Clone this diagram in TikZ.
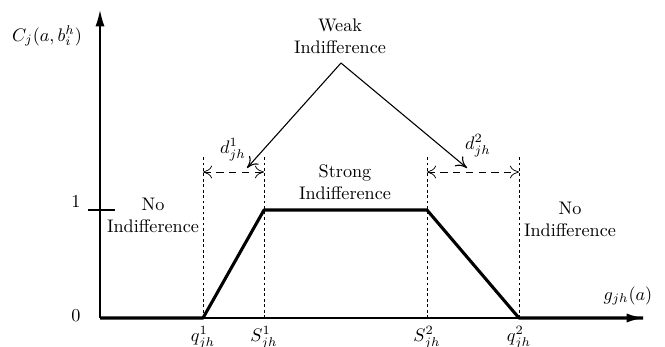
\documentclass[tikz,border=0pt]{standalone}
\usepackage{amsmath}
\usepackage{tikz}
\usetikzlibrary{arrows.meta}
\tikzset{
	axis/.style={thick, -{Latex[length=9pt, width=5pt]}}, % axes with filled heads
	curve/.style={line width=1.7pt, line join=round}, % the function itself
	guide/.style={thin, dash pattern=on 1.5pt off 1.5pt}, % vertical helper lines
	gap/.style={thin, dash pattern=on 4pt off 3pt, {To[length=5pt, width=7pt]}-{To[length=5pt, width=7pt]}}, % width of a zone
	pointer/.style={semithick, -{To[length=6pt, width=7pt]}}, % from the Weak label
	zone/.style={align=center, inner sep=1pt}, % zone labels
}
\begin{document}
\begin{tikzpicture}[x=0.55pt, y=-0.55pt]
	\useasboundingbox (0,0) rectangle (665,347);
	% axes
	\coordinate (o) at (100,318);
	\coordinate (ytop) at (100,10);
	\coordinate (xend) at (643,318);
	\draw[axis] (o) -- (ytop);
	\draw[axis] (o) -- (xend);
	\node (ylab) at (47,36) {$C_j(a,b_i^h)$};
	\node (xlab) at (628,296) {$g_{jh}(a)$};
	% levels
	\coordinate (t1) at (88,210);
	\coordinate (t2) at (115,210);
	\draw[thick] (t1) -- (t2);
	\node (one) at (76,202) {$1$};
	\node (zero) at (76,316) {$0$};
	% break points
	\coordinate (q1) at (203,318);
	\coordinate (s1) at (264,210);
	\coordinate (s2) at (427,210);
	\coordinate (q2) at (519,318);
	\coordinate (q1top) at (203,155);
	\coordinate (s1top) at (264,155);
	\coordinate (s2top) at (427,155);
	\coordinate (q2top) at (519,155);
	\draw[guide] (q1) -- (q1top);
	\draw[guide] (s1 |- o) -- (s1top);
	\draw[guide] (s2 |- o) -- (s2top);
	\draw[guide] (q2) -- (q2top);
	\draw[curve] (o) -- (q1) -- (s1) -- (s2) -- (q2) -- (xend);
	\node (lq1) at (203,338) {$q_{jh}^1$};
	\node (ls1) at (264,338) {$S_{jh}^1$};
	\node (ls2) at (427,338) {$S_{jh}^2$};
	\node (lq2) at (519,338) {$q_{jh}^2$};
	% zone widths
	\coordinate (d1a) at (203,172);
	\coordinate (d1b) at (264,172);
	\coordinate (d2a) at (427,172);
	\coordinate (d2b) at (519,172);
	\draw[gap] (d1a) -- (d1b);
	\draw[gap] (d2a) -- (d2b);
	\node (d1) at (233,150) {$d_{jh}^1$};
	\node (d2) at (478,146) {$d_{jh}^2$};
	% zone labels
	\node[zone] (weak) at (340,36) {Weak\\Indifference};
	\node[zone] (strong) at (345,182) {Strong\\Indifference};
	\node[zone] (noleft) at (153,215) {No\\Indifference};
	\node[zone] (noright) at (570,219) {No\\Indifference};
	\coordinate (apex) at (341,63);
	\coordinate (tipl) at (247,168);
	\coordinate (tipr) at (467,168);
	\draw[pointer] (apex) -- (tipl);
	\draw[pointer] (apex) -- (tipr);
\end{tikzpicture}
\end{document}
